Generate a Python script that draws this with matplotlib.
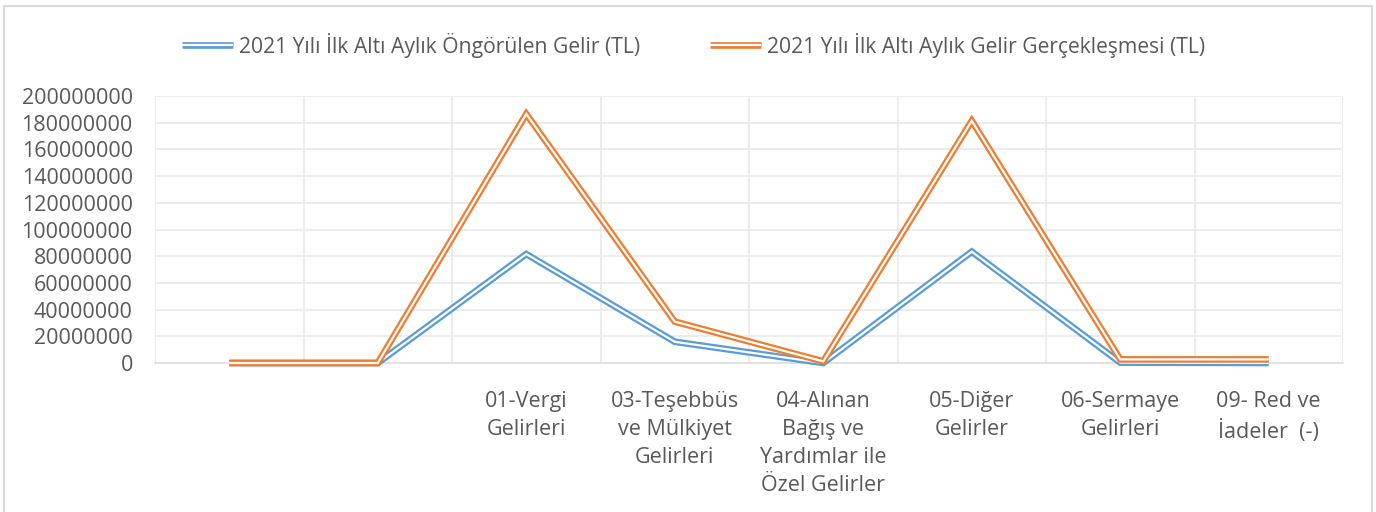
import numpy as np
import matplotlib
matplotlib.use("Agg")
import matplotlib.pyplot as plt
from matplotlib.lines import Line2D
from matplotlib.patches import Rectangle
from matplotlib.ticker import FuncFormatter, MultipleLocator

# data
categories = ["", "",
              "01-Vergi\nGelirleri",
              "03-Teşebbüs\nve Mülkiyet\nGelirleri",
              "04-Alınan\nBağış ve\nYardımlar ile\nÖzel Gelirler",
              "05-Diğer\nGelirler",
              "06-Sermaye\nGelirleri",
              "09- Red ve\nİadeler  (-)"]
ongorulen = [0, 0, 81.6e6, 15.9e6, 0, 83.4e6, 0.3e6, 0]
gerceklesen = [0, 0, 186.5e6, 31.0e6, 1.2e6, 181.4e6, 2.7e6, 2.7e6]
series_names = ["2021 Yılı İlk Altı Aylık Öngörülen Gelir (TL)",
                "2021 Yılı İlk Altı Aylık Gelir Gerçekleşmesi (TL)"]

BLUE = "#5b9bd5"
ORANGE = "#ed7d31"
TEXT = "#595959"
GRID = "#e9e9e9"
FONT = "Open Sans"
FS = 15.5
OUTER = 4.8
INNER = 1.6

plt.rcParams["font.family"] = [FONT, "DejaVu Sans"]

fig = plt.figure(figsize=(13.76, 5.12), dpi=100)
ax = fig.add_axes([155 / 1376, 1 - 363 / 512, (1343 - 155) / 1376, (363 - 96) / 512])

x = np.arange(len(categories))
handles = []
for vals, col in ((ongorulen, BLUE), (gerceklesen, ORANGE)):
    # excel style double line: thick coloured stroke with a thin white core
    ax.plot(x, vals, color=col, lw=OUTER, solid_joinstyle="miter",
            solid_capstyle="butt", zorder=3, clip_on=False)
    ax.plot(x, vals, color="white", lw=INNER, solid_joinstyle="miter",
            solid_capstyle="butt", zorder=3, clip_on=False)
    handles.append((Line2D([], [], color=col, lw=OUTER, solid_capstyle="butt"),
                    Line2D([], [], color="white", lw=INNER, solid_capstyle="butt")))

ax.set_xlim(-0.5, len(categories) - 0.5)
ax.set_ylim(0, 200e6)
ax.yaxis.set_major_locator(MultipleLocator(20e6))
ax.yaxis.set_major_formatter(FuncFormatter(lambda v, p: "%d" % v))
ax.set_xticks(x)
ax.set_xticklabels(categories, linespacing=1.45)
ax.set_xticks(np.arange(-0.5, len(categories)), minor=True)

ax.grid(True, which="major", axis="y", color=GRID, lw=1.2)
ax.grid(True, which="minor", axis="x", color=GRID, lw=1.2)
ax.set_axisbelow(True)
for s in ax.spines.values():
    s.set_visible(False)
ax.spines["bottom"].set_visible(True)
ax.spines["bottom"].set_color("#dedede")
ax.spines["bottom"].set_linewidth(1.2)

ax.tick_params(axis="both", which="both", length=0, colors=TEXT, labelsize=FS)
ax.tick_params(axis="y", pad=16)
ax.tick_params(axis="x", pad=20)

fig.legend(handles, series_names, loc="center", bbox_to_anchor=(0.504, 1 - 45 / 512),
           ncol=2, frameon=False, fontsize=15.2, labelcolor=TEXT,
           handlelength=2.4, handletextpad=0.3, columnspacing=3.3)

# chart area border
fig.patches.append(Rectangle((4 / 1376, -0.02), (1372 - 4) / 1376, 1.02 - 6 / 512,
                             transform=fig.transFigure, fill=False,
                             edgecolor="#d9d9d9", lw=1.5))

fig.savefig("out.png", dpi=100, facecolor="white")
